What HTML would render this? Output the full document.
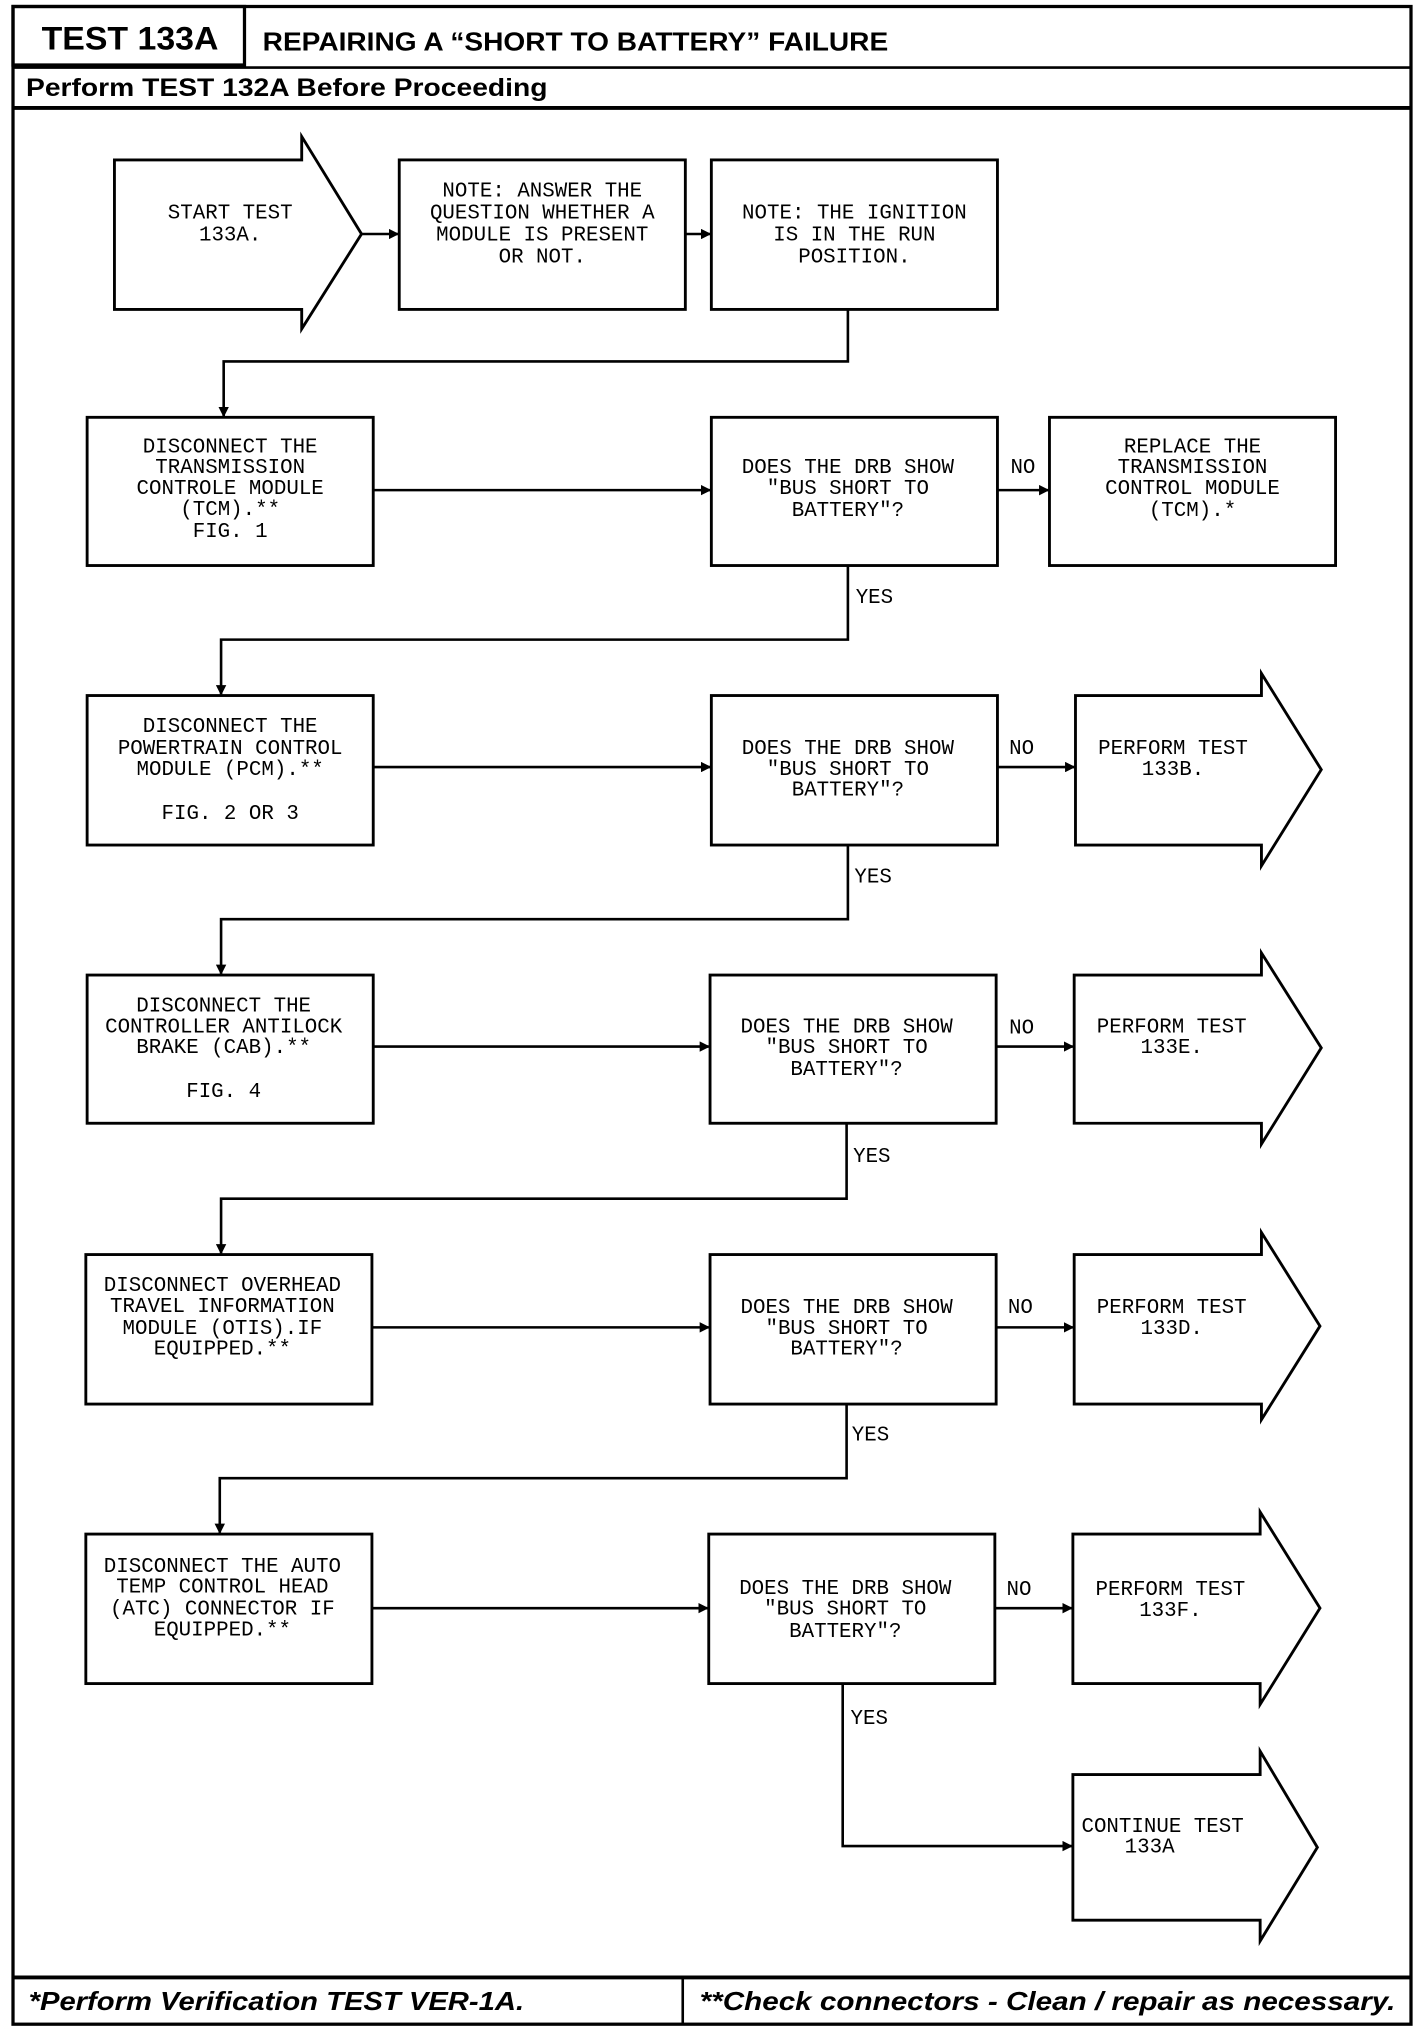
<!DOCTYPE html>
<html><head><meta charset="utf-8"><style>
html,body{margin:0;padding:0;background:#fff;}
svg{display:block;}
.t{font-family:"Liberation Mono","DejaVu Sans Mono",monospace;font-size:16px;text-anchor:middle;fill:#000;}
.l{font-family:"Liberation Mono",monospace;font-size:16px;fill:#000;}
.b{fill:#fff;stroke:#000;stroke-width:2.2;}
.c{fill:none;stroke:#000;stroke-width:2;}
</style></head><body>
<svg width="1424" height="2032" viewBox="0 0 1095 1563" preserveAspectRatio="none" xmlns="http://www.w3.org/2000/svg">
<defs><marker id="a" markerWidth="8" markerHeight="8" refX="7" refY="4" orient="auto" markerUnits="userSpaceOnUse"><path d="M0,0 L8,4 L0,8 Z" fill="#000"/></marker></defs>
<!-- frame -->
<rect x="10" y="5" width="1075" height="1552" fill="none" stroke="#000" stroke-width="2.5"/>
<rect x="10" y="5" width="178" height="45" fill="none" stroke="#000" stroke-width="2.5"/>
<line x1="10" y1="52" x2="1085" y2="52" stroke="#000" stroke-width="2"/>
<line x1="10" y1="83" x2="1085" y2="83" stroke="#000" stroke-width="3"/>
<line x1="10" y1="1521" x2="1085" y2="1521" stroke="#000" stroke-width="3"/>
<line x1="525" y1="1521" x2="525" y2="1557" stroke="#000" stroke-width="2"/>
<text x="32" y="38" font-family="Liberation Sans,sans-serif" font-weight="bold" font-size="25" textLength="136" lengthAdjust="spacingAndGlyphs">TEST 133A</text>
<text x="202" y="39" font-family="Liberation Sans,sans-serif" font-weight="bold" font-size="20" textLength="481" lengthAdjust="spacingAndGlyphs">REPAIRING A “SHORT TO BATTERY” FAILURE</text>
<text x="20" y="74" font-family="Liberation Sans,sans-serif" font-weight="bold" font-size="19" textLength="401" lengthAdjust="spacingAndGlyphs">Perform TEST 132A Before Proceeding</text>
<text x="22" y="1546" font-family="Liberation Sans,sans-serif" font-weight="bold" font-style="italic" font-size="20" textLength="381" lengthAdjust="spacingAndGlyphs">*Perform Verification TEST VER-1A.</text>
<text x="538" y="1546" font-family="Liberation Sans,sans-serif" font-weight="bold" font-style="italic" font-size="20" textLength="535" lengthAdjust="spacingAndGlyphs">**Check connectors - Clean / repair as necessary.</text>

<!-- top row -->
<polygon class="b" points="88,123 232,123 232,105 278,180 232,253 232,238 88,238"/>
<text class="t" x="177" y="168">START TEST</text><text class="t" x="177" y="185">133A.</text>
<rect class="b" x="307" y="123" width="220" height="115"/>
<text class="t" x="417" y="151">NOTE: ANSWER THE</text><text class="t" x="417" y="168">QUESTION WHETHER A</text><text class="t" x="417" y="185">MODULE IS PRESENT</text><text class="t" x="417" y="202">OR NOT.</text>
<rect class="b" x="547" y="123" width="220" height="115"/>
<text class="t" x="657" y="168">NOTE: THE IGNITION</text><text class="t" x="657" y="185">IS IN THE RUN</text><text class="t" x="657" y="202">POSITION.</text>
<line class="c" x1="278" y1="180" x2="306" y2="180" marker-end="url(#a)"/>
<line class="c" x1="527" y1="180" x2="546" y2="180" marker-end="url(#a)"/>
<polyline class="c" points="652,238 652,278 172,278 172,320" marker-end="url(#a)"/>

<!-- row1 -->
<rect class="b" x="67" y="321" width="220" height="114"/>
<text class="t" x="177" y="348">DISCONNECT THE</text><text class="t" x="177" y="364">TRANSMISSION</text><text class="t" x="177" y="380">CONTROLE MODULE</text><text class="t" x="177" y="396">(TCM).**</text><text class="t" x="177" y="413">FIG. 1</text>
<rect class="b" x="547" y="321" width="220" height="114"/>
<text class="t" x="652" y="364">DOES THE DRB SHOW</text><text class="t" x="652" y="380">"BUS SHORT TO</text><text class="t" x="652" y="397">BATTERY"?</text>
<rect class="b" x="807" y="321" width="220" height="114"/>
<text class="t" x="917" y="348">REPLACE THE</text><text class="t" x="917" y="364">TRANSMISSION</text><text class="t" x="917" y="380">CONTROL MODULE</text><text class="t" x="917" y="397">(TCM).*</text>
<line class="c" x1="287" y1="377" x2="546" y2="377" marker-end="url(#a)"/>
<line class="c" x1="767" y1="377" x2="806" y2="377" marker-end="url(#a)"/>
<text class="l" x="777" y="364">NO</text>
<polyline class="c" points="652,435 652,492 170,492 170,534" marker-end="url(#a)"/>
<text class="l" x="658" y="464">YES</text>

<!-- row2 -->
<rect class="b" x="67" y="535" width="220" height="115"/>
<text class="t" x="177" y="563">DISCONNECT THE</text><text class="t" x="177" y="580">POWERTRAIN CONTROL</text><text class="t" x="177" y="596">MODULE (PCM).**</text><text class="t" x="177" y="630">FIG. 2 OR 3</text>
<rect class="b" x="547" y="535" width="220" height="115"/>
<text class="t" x="652" y="580">DOES THE DRB SHOW</text><text class="t" x="652" y="596">"BUS SHORT TO</text><text class="t" x="652" y="612">BATTERY"?</text>
<polygon class="b" points="827,535 970,535 970,518 1016,592 970,666 970,650 827,650"/>
<text class="t" x="902" y="580">PERFORM TEST</text><text class="t" x="902" y="596">133B.</text>
<line class="c" x1="287" y1="590" x2="546" y2="590" marker-end="url(#a)"/>
<line class="c" x1="767" y1="590" x2="826" y2="590" marker-end="url(#a)"/>
<text class="l" x="776" y="580">NO</text>
<polyline class="c" points="652,650 652,707 170,707 170,749" marker-end="url(#a)"/>
<text class="l" x="657" y="679">YES</text>

<!-- row3 -->
<rect class="b" x="67" y="750" width="220" height="114"/>
<text class="t" x="172" y="778">DISCONNECT THE</text><text class="t" x="172" y="794">CONTROLLER ANTILOCK</text><text class="t" x="172" y="810">BRAKE (CAB).**</text><text class="t" x="172" y="844">FIG. 4</text>
<rect class="b" x="546" y="750" width="220" height="114"/>
<text class="t" x="651" y="794">DOES THE DRB SHOW</text><text class="t" x="651" y="810">"BUS SHORT TO</text><text class="t" x="651" y="827">BATTERY"?</text>
<polygon class="b" points="826,750 970,750 970,733 1016,806 970,880 970,864 826,864"/>
<text class="t" x="901" y="794">PERFORM TEST</text><text class="t" x="901" y="810">133E.</text>
<line class="c" x1="287" y1="805" x2="545" y2="805" marker-end="url(#a)"/>
<line class="c" x1="766" y1="805" x2="825" y2="805" marker-end="url(#a)"/>
<text class="l" x="776" y="795">NO</text>
<polyline class="c" points="651,864 651,922 170,922 170,964" marker-end="url(#a)"/>
<text class="l" x="656" y="894">YES</text>

<!-- row4 -->
<rect class="b" x="66" y="965" width="220" height="115"/>
<text class="t" x="171" y="993">DISCONNECT OVERHEAD</text><text class="t" x="171" y="1009">TRAVEL INFORMATION</text><text class="t" x="171" y="1026">MODULE (OTIS).IF</text><text class="t" x="171" y="1042">EQUIPPED.**</text>
<rect class="b" x="546" y="965" width="220" height="115"/>
<text class="t" x="651" y="1010">DOES THE DRB SHOW</text><text class="t" x="651" y="1026">"BUS SHORT TO</text><text class="t" x="651" y="1042">BATTERY"?</text>
<polygon class="b" points="826,965 970,965 970,948 1015,1020 970,1092 970,1080 826,1080"/>
<text class="t" x="901" y="1010">PERFORM TEST</text><text class="t" x="901" y="1026">133D.</text>
<line class="c" x1="286" y1="1021" x2="545" y2="1021" marker-end="url(#a)"/>
<line class="c" x1="766" y1="1021" x2="825" y2="1021" marker-end="url(#a)"/>
<text class="l" x="775" y="1010">NO</text>
<polyline class="c" points="651,1080 651,1137 169,1137 169,1179" marker-end="url(#a)"/>
<text class="l" x="655" y="1108">YES</text>

<!-- row5 -->
<rect class="b" x="66" y="1180" width="220" height="115"/>
<text class="t" x="171" y="1209">DISCONNECT THE AUTO</text><text class="t" x="171" y="1225">TEMP CONTROL HEAD</text><text class="t" x="171" y="1242">(ATC) CONNECTOR IF</text><text class="t" x="171" y="1258">EQUIPPED.**</text>
<rect class="b" x="545" y="1180" width="220" height="115"/>
<text class="t" x="650" y="1226">DOES THE DRB SHOW</text><text class="t" x="650" y="1242">"BUS SHORT TO</text><text class="t" x="650" y="1259">BATTERY"?</text>
<polygon class="b" points="825,1180 969,1180 969,1163 1015,1237 969,1311 969,1295 825,1295"/>
<text class="t" x="900" y="1227">PERFORM TEST</text><text class="t" x="900" y="1243">133F.</text>
<line class="c" x1="286" y1="1237" x2="544" y2="1237" marker-end="url(#a)"/>
<line class="c" x1="765" y1="1237" x2="824" y2="1237" marker-end="url(#a)"/>
<text class="l" x="774" y="1227">NO</text>
<polyline class="c" points="648,1295 648,1420 824,1420" marker-end="url(#a)"/>
<text class="l" x="654" y="1326">YES</text>

<polygon class="b" points="825,1365 969,1365 969,1347 1013,1421 969,1493 969,1477 825,1477"/>
<text class="t" x="894" y="1409">CONTINUE TEST</text><text class="t" x="884" y="1425">133A</text>
</svg>
</body></html>
